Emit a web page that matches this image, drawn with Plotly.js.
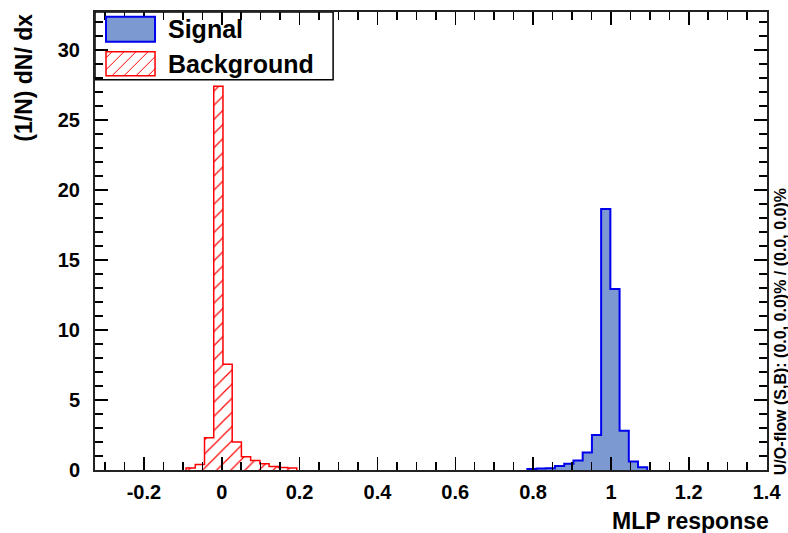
<!DOCTYPE html>
<html>
<head>
<meta charset="utf-8">
<script src="https://cdn.plot.ly/plotly-3.0.1.min.js"></script>
<style>html,body{margin:0;padding:0;background:#fff}#chart{width:788px;height:533px}</style>
</head>
<body>
<div id="chart"></div>
<script>
// ---- data ----
const binWidth = 0.0237;
const bgBinLow  = [-0.0917, -0.0680, -0.0443, -0.0206, 0.0031, 0.0268, 0.0505, 0.0742, 0.0979, 0.1216, 0.1453, 0.1690];
const bgValues  = [0.15, 0.40, 2.30, 27.4, 7.55, 2.00, 0.95, 0.68, 0.45, 0.25, 0.17, 0.15];
const sigBinLow = [0.7852, 0.8089, 0.8326, 0.8563, 0.8800, 0.9037, 0.9274, 0.9511, 0.9748, 0.9985, 1.0222, 1.0459, 1.0696];
const sigValues = [0.08, 0.10, 0.12, 0.28, 0.45, 0.68, 1.25, 2.50, 18.64, 12.93, 2.80, 0.60, 0.20];
const xTickVals = [-0.2, 0, 0.2, 0.4, 0.6, 0.8, 1, 1.2, 1.4];
const xTickText = ['-0.2', '0', '0.2', '0.4', '0.6', '0.8', '1', '1.2', '1.4'];
const seriesNames = ['Signal', 'Background'];
const xTitle = 'MLP response';
const yTitle = '(1/N) dN/ dx';
const flowText = 'U/O-flow (S,B): (0.0, 0.0)% / (0.0, 0.0)%';

function stepXY(low, vals, w) {
  const x = [low[0]].concat(low, [low[low.length - 1] + w]);
  const y = [0].concat(vals, [0]);
  return {x, y};
}

const W = 788, H = 533;
const M = {l: 95, r: 21.3, t: 12.3, b: 63};
const PW = W - M.l - M.r, PH = H - M.t - M.b;
const px = v => (v - M.l) / PW;
const py = v => (H - M.b - v) / PH;

const FONT = 'Liberation Sans, Arial, Helvetica, sans-serif';

const s = stepXY(sigBinLow, sigValues, binWidth);
const b = stepXY(bgBinLow, bgValues, binWidth);

const traces = [
  {x: s.x, y: s.y, type: 'scatter', mode: 'lines', name: seriesNames[0],
   line: {shape: 'hv', color: '#0000ee', width: 2},
   fill: 'tozeroy', fillcolor: '#7d99d1', showlegend: false, hoverinfo: 'skip'},
  {x: b.x, y: b.y, type: 'scatter', mode: 'lines', name: seriesNames[1],
   line: {shape: 'hv', color: '#ff0000', width: 1.5},
   fill: 'tozeroy', fillcolor: 'rgba(0,0,0,0)',
   fillpattern: {shape: '/', fgcolor: '#ff0000', bgcolor: 'rgba(0,0,0,0)', size: 10, solidity: 0.12},
   showlegend: false, hoverinfo: 'skip'}
];

// legend box (drawn as decoration)
const shapes = [
  {type: 'rect', xref: 'paper', yref: 'paper', x0: px(95), x1: px(333), y0: py(80), y1: py(12.3),
   fillcolor: '#ffffff', line: {color: '#000', width: 1.5}, layer: 'below'},
  {type: 'rect', xref: 'paper', yref: 'paper', x0: px(106), x1: px(155), y0: py(42), y1: py(17),
   fillcolor: '#7d99d1', line: {color: '#0000ee', width: 2}, layer: 'above'},
  {type: 'rect', xref: 'paper', yref: 'paper', x0: px(106), x1: px(155), y0: py(76), y1: py(52),
   fillcolor: 'rgba(0,0,0,0)', line: {color: '#ff0000', width: 1.5}, layer: 'above'}
];
// hatch lines inside background legend box
(function () {
  const x0 = 106, x1 = 155, yb = 76, yt = 52, h = yb - yt;
  for (let a = x0 - h + 6; a < x1; a += 12) {
    let t0 = 0, t1 = 1;
    if (a < x0) t0 = (x0 - a) / h;
    if (a + h > x1) t1 = (x1 - a) / h;
    if (t1 <= t0) continue;
    shapes.push({type: 'line', xref: 'paper', yref: 'paper',
      x0: px(a + h * t0), y0: py(yb - h * t0), x1: px(a + h * t1), y1: py(yb - h * t1),
      line: {color: '#ff0000', width: 1}, layer: 'above'});
  }
})();

const annotations = [
  {text: seriesNames[0], xref: 'paper', yref: 'paper', x: px(166), y: py(29.5), xanchor: 'left', yanchor: 'middle',
   showarrow: false, font: {family: FONT, size: 25, color: '#000', weight: 'bold'}},
  {text: seriesNames[1], xref: 'paper', yref: 'paper', x: px(166), y: py(64), xanchor: 'left', yanchor: 'middle',
   showarrow: false, font: {family: FONT, size: 25, color: '#000', weight: 'bold'}},
  {text: xTitle, xref: 'paper', yref: 'paper', x: px(771), y: py(521), xanchor: 'right', yanchor: 'middle',
   showarrow: false, font: {family: FONT, size: 23, color: '#000', weight: 'bold'}},
  {text: yTitle, xref: 'paper', yref: 'paper', x: px(24), y: py(78), xanchor: 'center', yanchor: 'middle',
   textangle: -90, showarrow: false, font: {family: FONT, size: 23, color: '#000', weight: 'bold'}},
  {text: flowText, xref: 'paper', yref: 'paper', x: px(781), y: py(332), xanchor: 'center', yanchor: 'middle',
   textangle: -90, showarrow: false, font: {family: FONT, size: 16, color: '#000', weight: 'bold'}}
];

const layout = {
  width: W, height: H,
  margin: M,
  paper_bgcolor: '#fff', plot_bgcolor: '#fff',
  showlegend: false,
  font: {family: FONT, color: '#000'},
  xaxis: {
    range: [-0.3257, 1.401], tickmode: 'array', tickvals: xTickVals, ticktext: xTickText,
    ticks: 'inside', ticklen: 13, tickwidth: 1.5, tickcolor: '#000',
    minor: {dtick: 0.05, tick0: 0, ticks: 'inside', ticklen: 8, tickwidth: 1.5, tickcolor: '#000'},
    showline: true, linecolor: '#222', linewidth: 2, mirror: 'allticks',
    showgrid: false, zeroline: false,
    tickfont: {family: FONT, size: 20, color: '#000', weight: 'bold'},
    ticklabelstandoff: 3
  },
  yaxis: {
    range: [0, 32.7], dtick: 5, tick0: 0,
    ticks: 'inside', ticklen: 13, tickwidth: 1.5, tickcolor: '#000',
    minor: {dtick: 1, ticks: 'inside', ticklen: 8, tickwidth: 1.5, tickcolor: '#000'},
    showline: true, linecolor: '#222', linewidth: 2, mirror: 'allticks',
    showgrid: false, zeroline: false,
    tickfont: {family: FONT, size: 20, color: '#000', weight: 'bold'},
    ticklabelstandoff: 9
  },
  shapes: shapes,
  annotations: annotations
};

Plotly.newPlot('chart', traces, layout, {staticPlot: true, displayModeBar: false});
</script>
</body>
</html>
